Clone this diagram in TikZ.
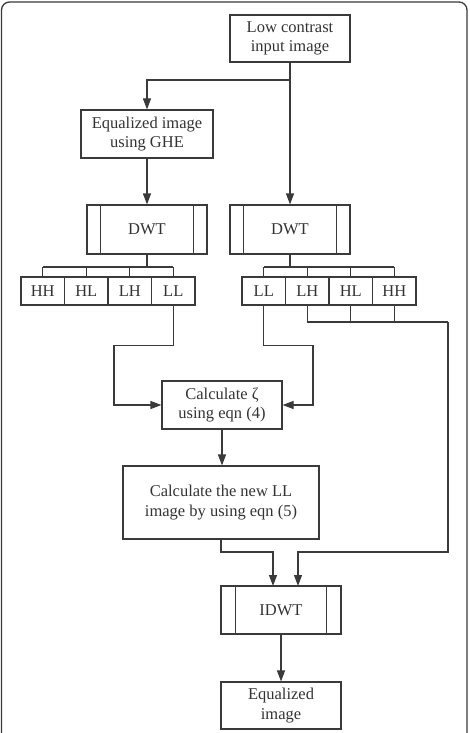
\documentclass[tikz,border=0pt]{standalone}
\usepackage{fontspec}
\setmainfont{Liberation Serif}
\usetikzlibrary{arrows.meta}
\definecolor{ln}{HTML}{3A3A3A}
\definecolor{tx}{HTML}{333333}
\tikzset{
  box/.style={draw=ln, line width=1.1pt, inner sep=0pt, align=center, text=tx,
    font=\fontsize{16.5}{19.5}\selectfont},
  sub/.style={box, minimum width=43.5pt, minimum height=28pt},
  wire/.style={draw=ln, line width=1.1pt},
  arr/.style={wire, -{Triangle[length=11pt,width=8pt]}},
}
\begin{document}
\begin{tikzpicture}[x=1pt,y=-1pt]
\useasboundingbox (0,0) rectangle (469,733);
\clip (0,0) rectangle (469,733);
\draw[ln, line width=1.3pt, rounded corners=8pt] (1.5,2) rectangle (467,770);

% boxes
\node[box, minimum width=120pt, minimum height=47pt] (low) at (290,38.5) {Low contrast\\input image};
\node[box, minimum width=132pt, minimum height=48pt] (ghe) at (147,134) {Equalized image\\using GHE};
\node[box, minimum width=120pt, minimum height=49pt] (dwtL) at (147,229.5) {DWT};
\node[box, minimum width=120pt, minimum height=49pt] (dwtR) at (290,229.5) {DWT};
\draw[wire] ([xshift=14pt]dwtL.north west) -- ([xshift=14pt]dwtL.south west);
\draw[wire] ([xshift=-14pt]dwtL.north east) -- ([xshift=-14pt]dwtL.south east);
\draw[wire] ([xshift=14pt]dwtR.north west) -- ([xshift=14pt]dwtR.south west);
\draw[wire] ([xshift=-14pt]dwtR.north east) -- ([xshift=-14pt]dwtR.south east);

\node[sub] (HHa) at (42.75,291) {HH};
\node[sub] (HLa) at (86.25,291) {HL};
\node[sub] (LHa) at (129.75,291) {LH};
\node[sub] (LLa) at (173.25,291) {LL};
\node[sub] (LLb) at (263.75,291) {LL};
\node[sub] (LHb) at (307.25,291) {LH};
\node[sub] (HLb) at (350.75,291) {HL};
\node[sub] (HHb) at (394.25,291) {HH};

\node[box, minimum width=120pt, minimum height=48pt] (zeta) at (222,405) {Calculate ζ\\using eqn (4)};
\node[box, minimum width=196pt, minimum height=73pt] (newLL) at (221,502.5) {Calculate the new LL\\image by using eqn (5)};
\node[box, minimum width=120pt, minimum height=48pt] (idwt) at (281,610) {IDWT};
\draw[wire] ([xshift=15pt]idwt.north west) -- ([xshift=15pt]idwt.south west);
\draw[wire] ([xshift=-15pt]idwt.north east) -- ([xshift=-15pt]idwt.south east);
\node[box, minimum width=120pt, minimum height=47pt] (eq) at (281,705.5) {Equalized\\image};

% coordinates
\coordinate (split) at (290,80);
\coordinate (busL) at (147,267);
\coordinate (busR) at (290,267);
\coordinate (lz) at (114,405);
\coordinate (rz) at (313,405);
\coordinate (hb) at (448,322);
\coordinate (hr) at (448,552);
\coordinate (i1) at (273,586);
\coordinate (i2) at (298,586);

% connectors
\draw[arr] (low.south) -- (split) -| (ghe.north);
\draw[arr] (low.south) -- (dwtR.north);
\draw[arr] (ghe.south) -- (dwtL.north);

\draw[wire] (dwtL.south) -- (busL);
\draw[wire] (HHa.north |- busL) -- (LLa.north |- busL);
\foreach \n in {HHa,HLa,LHa,LLa} \draw[wire] (\n.north |- busL) -- (\n.north);
\draw[wire] (dwtR.south) -- (busR);
\draw[wire] (LLb.north |- busR) -- (HHb.north |- busR);
\foreach \n in {LLb,LHb,HLb,HHb} \draw[wire] (\n.north |- busR) -- (\n.north);

\draw[arr] (LLa.south) -- ++(0,40) -| (lz) -- (zeta.west);
\draw[arr] (LLb.south) -- ++(0,40) -| (rz) -- (zeta.east);

\draw[wire] (LHb.south) |- (hb);
\draw[wire] (HLb.south) -- (HLb.south |- hb);
\draw[wire] (HHb.south) -- (HHb.south |- hb);
\draw[arr] (hb) -- (hr) -| (i2);

\draw[arr] (zeta.south) -- (zeta.south |- newLL.north);
\draw[arr] (newLL.south) |- (i1 |- hr) -- (i1);
\draw[arr] (idwt.south) -- (eq.north);
\end{tikzpicture}
\end{document}
